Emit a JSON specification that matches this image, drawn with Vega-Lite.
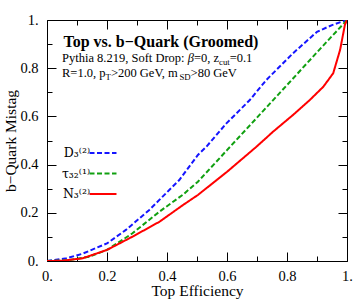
{
  "$schema": "https://vega.github.io/schema/vega-lite/v6.json",
  "width": 300,
  "height": 241,
  "autosize": "none",
  "padding": {"left": 47, "top": 20, "right": 7, "bottom": 45},
  "background": "white",
  "config": {
    "font": "Liberation Serif",
    "view": {"stroke": "black", "strokeWidth": 1},
    "axis": {"grid": false, "domain": false, "tickColor": "black", "labelColor": "black", "titleColor": "black", "labelFontSize": 14.5, "titleFontSize": 15.5, "titleFontWeight": "normal", "labelFlush": false, "tickWidth": 1},
    "legend": {"orient": "none", "legendX": 48, "legendY": 125, "direction": "vertical", "symbolType": "M-2,0H2", "symbolSize": 182, "symbolStrokeWidth": 2, "labelFontSize": 12.5, "labelFont": "DejaVu Serif", "labelAlign": "right", "labelOffset": -21, "padding": 0, "rowPadding": 5.5, "labelColor": "black"}
  },
  "datasets": {
    "curves": [
      {"series": "D₃⁽²⁾", "x": 0, "y": 0},
      {"series": "D₃⁽²⁾", "x": 0.06, "y": 0.01},
      {"series": "D₃⁽²⁾", "x": 0.118, "y": 0.03},
      {"series": "D₃⁽²⁾", "x": 0.2, "y": 0.073},
      {"series": "D₃⁽²⁾", "x": 0.263, "y": 0.129},
      {"series": "D₃⁽²⁾", "x": 0.341, "y": 0.212},
      {"series": "D₃⁽²⁾", "x": 0.441, "y": 0.336},
      {"series": "D₃⁽²⁾", "x": 0.503, "y": 0.44},
      {"series": "D₃⁽²⁾", "x": 0.531, "y": 0.474},
      {"series": "D₃⁽²⁾", "x": 0.598, "y": 0.571},
      {"series": "D₃⁽²⁾", "x": 0.676, "y": 0.668},
      {"series": "D₃⁽²⁾", "x": 0.731, "y": 0.751},
      {"series": "D₃⁽²⁾", "x": 0.82, "y": 0.862},
      {"series": "D₃⁽²⁾", "x": 0.9, "y": 0.951},
      {"series": "D₃⁽²⁾", "x": 0.95, "y": 0.979},
      {"series": "D₃⁽²⁾", "x": 1, "y": 1},
      {"series": "τ₃₂⁽¹⁾", "x": 0, "y": 0},
      {"series": "τ₃₂⁽¹⁾", "x": 0.07, "y": 0.003},
      {"series": "τ₃₂⁽¹⁾", "x": 0.14, "y": 0.018},
      {"series": "τ₃₂⁽¹⁾", "x": 0.2, "y": 0.046},
      {"series": "τ₃₂⁽¹⁾", "x": 0.285, "y": 0.115},
      {"series": "τ₃₂⁽¹⁾", "x": 0.375, "y": 0.205},
      {"series": "τ₃₂⁽¹⁾", "x": 0.453, "y": 0.275},
      {"series": "τ₃₂⁽¹⁾", "x": 0.503, "y": 0.329},
      {"series": "τ₃₂⁽¹⁾", "x": 0.6, "y": 0.46},
      {"series": "τ₃₂⁽¹⁾", "x": 0.7, "y": 0.595},
      {"series": "τ₃₂⁽¹⁾", "x": 0.8, "y": 0.73},
      {"series": "τ₃₂⁽¹⁾", "x": 0.9, "y": 0.866},
      {"series": "τ₃₂⁽¹⁾", "x": 1, "y": 1},
      {"series": "N₃⁽²⁾", "x": 0, "y": 0},
      {"series": "N₃⁽²⁾", "x": 0.05, "y": 0.001},
      {"series": "N₃⁽²⁾", "x": 0.118, "y": 0.011},
      {"series": "N₃⁽²⁾", "x": 0.2, "y": 0.046},
      {"series": "N₃⁽²⁾", "x": 0.285, "y": 0.101},
      {"series": "N₃⁽²⁾", "x": 0.375, "y": 0.163},
      {"series": "N₃⁽²⁾", "x": 0.453, "y": 0.232},
      {"series": "N₃⁽²⁾", "x": 0.503, "y": 0.274},
      {"series": "N₃⁽²⁾", "x": 0.6, "y": 0.37},
      {"series": "N₃⁽²⁾", "x": 0.698, "y": 0.474},
      {"series": "N₃⁽²⁾", "x": 0.754, "y": 0.537},
      {"series": "N₃⁽²⁾", "x": 0.82, "y": 0.606},
      {"series": "N₃⁽²⁾", "x": 0.876, "y": 0.668},
      {"series": "N₃⁽²⁾", "x": 0.921, "y": 0.723},
      {"series": "N₃⁽²⁾", "x": 0.954, "y": 0.779},
      {"series": "N₃⁽²⁾", "x": 0.977, "y": 0.876},
      {"series": "N₃⁽²⁾", "x": 0.993, "y": 0.98},
      {"series": "N₃⁽²⁾", "x": 1, "y": 1}
    ],
    "anchor": [{"note": "annotation"}]
  },
  "resolve": {"axis": {"x": "independent", "y": "independent"}},
  "layer": [
    {
      "data": {"name": "curves"},
      "mark": {"type": "line", "strokeWidth": 2, "clip": true},
      "encoding": {
        "x": {"field": "x", "type": "quantitative", "scale": {"domain": [0, 1], "nice": false, "zero": false},
          "axis": {"orient": "bottom", "title": "Top Efficiency", "values": [0, 0.2, 0.4, 0.6, 0.8, 1], "labelExpr": "datum.value == 0 ? '0.' : datum.value == 1 ? '1.' : format(datum.value, '.1f')", "tickSize": -9, "labelPadding": 17, "titlePadding": 1}},
        "y": {"field": "y", "type": "quantitative", "scale": {"domain": [0, 1], "nice": false, "zero": false},
          "axis": {"orient": "left", "title": "b−Quark Mistag", "values": [0, 0.2, 0.4, 0.6, 0.8, 1], "labelExpr": "datum.value == 0 ? '0.' : datum.value == 1 ? '1.' : format(datum.value, '.1f')", "tickSize": -9, "labelPadding": 18, "titlePadding": 1}},
        "color": {"field": "series", "type": "nominal", "title": null, "scale": {"domain": ["D₃⁽²⁾", "τ₃₂⁽¹⁾", "N₃⁽²⁾"], "range": ["#1515ff", "#10a010", "#ff0000"]}},
        "strokeDash": {"field": "series", "type": "nominal", "title": null, "scale": {"domain": ["D₃⁽²⁾", "τ₃₂⁽¹⁾", "N₃⁽²⁾"], "range": [[5, 2.5], [5, 2.5], [1, 0]]}}
      }
    },
    {
      "data": {"name": "curves"},
      "mark": {"type": "point", "opacity": 0},
      "encoding": {
        "x": {"field": "x", "type": "quantitative", "axis": {"orient": "top", "title": null, "labels": false, "values": [0, 0.2, 0.4, 0.6, 0.8, 1], "tickSize": -9}},
        "y": {"field": "y", "type": "quantitative", "axis": {"orient": "right", "title": null, "labels": false, "values": [0, 0.2, 0.4, 0.6, 0.8, 1], "tickSize": -9}}
      }
    },
    {
      "data": {"name": "curves"},
      "mark": {"type": "point", "opacity": 0},
      "encoding": {
        "x": {"field": "x", "type": "quantitative", "axis": {"orient": "bottom", "title": null, "labels": false, "values": [0.1, 0.3, 0.5, 0.7, 0.9], "tickSize": -5}},
        "y": {"field": "y", "type": "quantitative", "axis": {"orient": "left", "title": null, "labels": false, "values": [0.1, 0.3, 0.5, 0.7, 0.9], "tickSize": -5}}
      }
    },
    {
      "data": {"name": "curves"},
      "mark": {"type": "point", "opacity": 0},
      "encoding": {
        "x": {"field": "x", "type": "quantitative", "axis": {"orient": "top", "title": null, "labels": false, "values": [0.1, 0.3, 0.5, 0.7, 0.9], "tickSize": -5}},
        "y": {"field": "y", "type": "quantitative", "axis": {"orient": "right", "title": null, "labels": false, "values": [0.1, 0.3, 0.5, 0.7, 0.9], "tickSize": -5}}
      }
    },
    {"data": {"name": "anchor"}, "mark": {"type": "text", "text": "Top vs. b−Quark (Groomed)", "fontSize": 16, "fontWeight": "bold", "align": "left", "baseline": "alphabetic"}, "encoding": {"x": {"datum": 0.055, "axis": null}, "y": {"datum": 0.889, "axis": null}}},
    {"data": {"name": "anchor"}, "mark": {"type": "text", "text": "Pythia 8.219, Soft Drop:", "fontSize": 12.5, "align": "left", "baseline": "alphabetic"}, "encoding": {"x": {"datum": 0.05, "axis": null}, "y": {"datum": 0.827, "axis": null}}},
    {"data": {"name": "anchor"}, "mark": {"type": "text", "text": "β", "fontSize": 12.5, "fontStyle": "italic", "align": "left", "baseline": "alphabetic", "dx": 125.7}, "encoding": {"x": {"datum": 0.05, "axis": null}, "y": {"datum": 0.827, "axis": null}}},
    {"data": {"name": "anchor"}, "mark": {"type": "text", "text": "=0, z", "fontSize": 12.5, "align": "left", "baseline": "alphabetic", "dx": 131.9}, "encoding": {"x": {"datum": 0.05, "axis": null}, "y": {"datum": 0.827, "axis": null}}},
    {"data": {"name": "anchor"}, "mark": {"type": "text", "text": "cut", "fontSize": 8.75, "align": "left", "baseline": "alphabetic", "dx": 157.0, "dy": 3}, "encoding": {"x": {"datum": 0.05, "axis": null}, "y": {"datum": 0.827, "axis": null}}},
    {"data": {"name": "anchor"}, "mark": {"type": "text", "text": "=0.1", "fontSize": 12.5, "align": "left", "baseline": "alphabetic", "dx": 167.7}, "encoding": {"x": {"datum": 0.05, "axis": null}, "y": {"datum": 0.827, "axis": null}}},
    {"data": {"name": "anchor"}, "mark": {"type": "text", "text": "R=1.0, p", "fontSize": 12.5, "align": "left", "baseline": "alphabetic"}, "encoding": {"x": {"datum": 0.05, "axis": null}, "y": {"datum": 0.765, "axis": null}}},
    {"data": {"name": "anchor"}, "mark": {"type": "text", "text": "T", "fontSize": 8.75, "align": "left", "baseline": "alphabetic", "dx": 43.5, "dy": 3}, "encoding": {"x": {"datum": 0.05, "axis": null}, "y": {"datum": 0.765, "axis": null}}},
    {"data": {"name": "anchor"}, "mark": {"type": "text", "text": ">200 GeV, m", "fontSize": 12.5, "align": "left", "baseline": "alphabetic", "dx": 48.9}, "encoding": {"x": {"datum": 0.05, "axis": null}, "y": {"datum": 0.765, "axis": null}}},
    {"data": {"name": "anchor"}, "mark": {"type": "text", "text": "SD", "fontSize": 8.75, "align": "left", "baseline": "alphabetic", "dx": 117.4, "dy": 3}, "encoding": {"x": {"datum": 0.05, "axis": null}, "y": {"datum": 0.765, "axis": null}}},
    {"data": {"name": "anchor"}, "mark": {"type": "text", "text": ">80 GeV", "fontSize": 12.5, "align": "left", "baseline": "alphabetic", "dx": 128.6}, "encoding": {"x": {"datum": 0.05, "axis": null}, "y": {"datum": 0.765, "axis": null}}}
  ]
}
